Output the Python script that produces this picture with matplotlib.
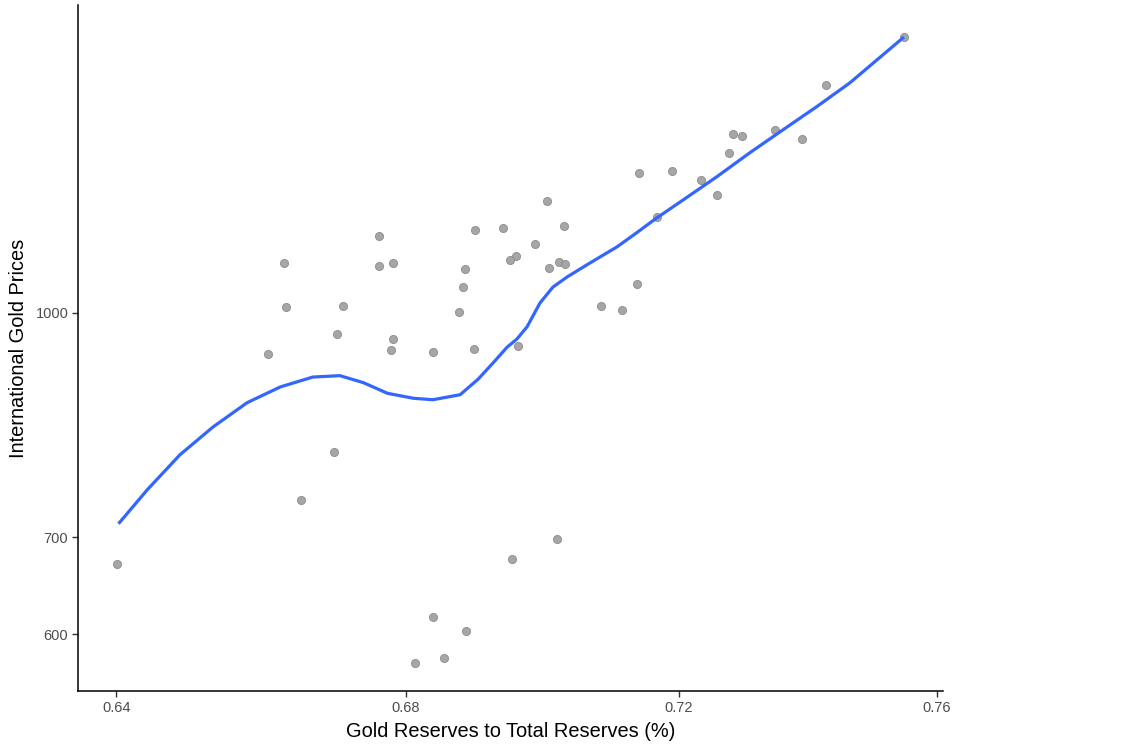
import numpy as np
import matplotlib
matplotlib.use('Agg')
import matplotlib.pyplot as plt
from matplotlib.ticker import FixedLocator, NullLocator

plt.rcParams['font.family'] = ['Liberation Sans', 'DejaVu Sans']

# scatter points (gold reserve share, gold price)
gold_share = [0.6762, 0.6629, 0.6762, 0.6782, 0.6899, 0.6940, 0.6959, 0.6950, 0.6885, 0.6882,
              0.6632, 0.6711, 0.6876, 0.6703, 0.6782, 0.6779, 0.6839, 0.6898, 0.6962, 0.6607,
              0.7548, 0.7425, 0.7282, 0.7296, 0.7347, 0.7388, 0.7276, 0.7140, 0.7190, 0.7234,
              0.7258, 0.7004, 0.7167, 0.7029, 0.6987, 0.7007, 0.7022, 0.7031, 0.7137, 0.7084,
              0.7115, 0.6699, 0.6653, 0.6401, 0.6953, 0.6839, 0.6886, 0.6855, 0.6813, 0.7019]
gold_price = [1130, 1083, 1078, 1083, 1141, 1145, 1095, 1088, 1073, 1042,
              1010, 1011, 1002, 967, 959, 943, 940, 944, 949, 937,
              1551, 1437, 1330, 1325, 1338, 1319, 1290, 1250, 1254, 1236,
              1207, 1195, 1165, 1148, 1116, 1074, 1085, 1081, 1047, 1011,
              1005, 802, 743, 671, 676, 616, 603, 578, 573, 698]

# smooth (loess) curve
smooth_x = [0.6403, 0.6442, 0.6486, 0.6531, 0.6578, 0.6624, 0.6669, 0.6707, 0.6740, 0.6774,
            0.6811, 0.6839, 0.6878, 0.6904, 0.6926, 0.6946, 0.6960, 0.6975, 0.6994, 0.7013,
            0.7034, 0.7068, 0.7108, 0.7137, 0.7167, 0.7207, 0.7258, 0.7308, 0.7359, 0.7411,
            0.7463, 0.7548]
smooth_y = [715, 755, 798, 834, 867, 889, 903, 905, 895, 880,
            873, 871, 878, 900, 924, 947, 959, 978, 1016, 1042,
            1059, 1083, 1111, 1136, 1163, 1197, 1242, 1290, 1338, 1388,
            1442, 1551]

x_ticks = [0.64, 0.68, 0.72, 0.76]
y_ticks = [600, 700, 1000]

fig = plt.figure(figsize=(11.29, 7.46), dpi=100)
ax = fig.add_axes([0.0691, 0.0737, 0.7662, 0.9196])

ax.scatter(gold_share, gold_price, s=34, c='#a6a6a6', edgecolors='#8a8a8a', linewidths=0.6, zorder=2)
ax.plot(smooth_x, smooth_y, color='#3366FF', lw=2.3, zorder=3,
        solid_capstyle='butt', solid_joinstyle='round')

ax.set_xscale('log')
ax.set_yscale('log')
ax.set_xlim(0.6349, 0.7610)
ax.set_ylim(548, 1632)

ax.xaxis.set_major_locator(FixedLocator(x_ticks))
ax.yaxis.set_major_locator(FixedLocator(y_ticks))
ax.xaxis.set_minor_locator(NullLocator())
ax.yaxis.set_minor_locator(NullLocator())
ax.set_xticklabels(['%.2f' % v for v in x_ticks])
ax.set_yticklabels([str(v) for v in y_ticks])

for s in ['top', 'right']:
    ax.spines[s].set_visible(False)
for s in ['left', 'bottom']:
    ax.spines[s].set_linewidth(1.1)
    ax.spines[s].set_color('black')

ax.tick_params(axis='both', length=4, width=1.0, color='#333333', labelcolor='#4d4d4d', labelsize=10.5, pad=3)

ax.set_xlabel('Gold Reserves to Total Reserves (%)', fontsize=14.4, labelpad=5)
ax.set_ylabel('International Gold Prices', fontsize=14.4, labelpad=5)

fig.savefig('out.png', dpi=100, facecolor='white')
